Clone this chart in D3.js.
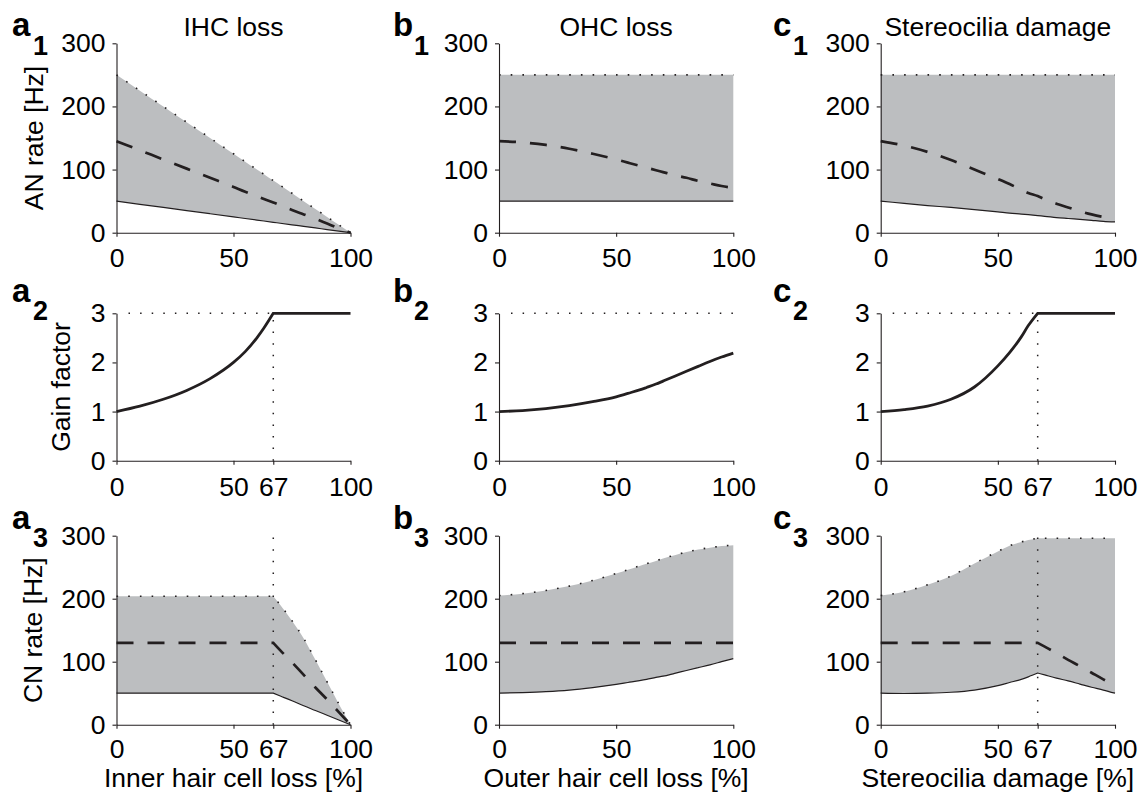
<!DOCTYPE html>
<html><head><meta charset="utf-8">
<script src="https://cdn.jsdelivr.net/npm/d3@7"></script>
<style>
body{margin:0;background:#fff}
svg{display:block}
text{font-family:"Liberation Sans",Arial,Helvetica,sans-serif;fill:#000}
</style></head><body>
<svg id="chart" width="1142" height="798"></svg>
<script>
// ---------------- data ----------------
const lossGrid = [0, 10, 20, 30, 40, 50, 55, 60, 63, 67, 70, 75, 80, 85, 90, 95, 100];

// Row 1: AN rate [Hz]
const a1Upper = [250, 225, 200, 175, 150, 125, 112.5, 100, 92.5, 82.5, 75, 62.5, 50, 37.5, 25, 12.5, 0];
const a1Mean  = [145, 130.5, 116, 101.5, 87, 72.5, 65, 58, 53.5, 48, 43.5, 36, 29, 22, 14.5, 7, 0];
const a1Lower = [50, 45, 40, 35, 30, 25, 22.5, 20, 18.5, 16.5, 15, 12.5, 10, 7.5, 5, 2.5, 0];

const b1Upper = [250, 250, 250, 250, 250, 250, 250, 250, 250, 250, 250, 250, 250, 250, 250, 250, 250];
const b1Mean  = [145, 143, 139, 133, 125, 116, 111, 106, 103, 99, 96, 91, 87, 82, 78, 74, 71];
const b1Lower = [50, 50, 50, 50, 50, 50, 50, 50, 50, 50, 50, 50, 50, 50, 50, 50, 50];

const c1Upper = [250, 250, 250, 250, 250, 250, 250, 250, 250, 250, 250, 250, 250, 250, 250, 250, 250];
const c1Mean  = [145, 138, 128, 115, 100, 85, 77, 68, 63, 58, 53, 46, 40, 34, 29, 25, 22];
const c1Lower = [50, 46.5, 43, 40, 36.5, 33, 31, 29.5, 28.5, 27, 26, 24, 22.5, 21, 19.5, 18, 17];

// Row 2: gain factor
const a2Gain = [1, 1.11, 1.25, 1.43, 1.67, 2.0, 2.22, 2.5, 2.7, 3, 3, 3, 3, 3, 3, 3, 3];
const b2Gain = [1, 1.02, 1.06, 1.12, 1.2, 1.3, 1.37, 1.44, 1.49, 1.56, 1.62, 1.72, 1.82, 1.92, 2.02, 2.11, 2.19];
const c2Gain = [1, 1.04, 1.11, 1.25, 1.5, 1.93, 2.2, 2.52, 2.75, 3, 3, 3, 3, 3, 3, 3, 3];

// Row 3: CN rate [Hz]
const a3Upper = [204, 204, 204, 204, 204, 204, 204, 204, 204, 204, 190, 165, 137, 103, 68, 33, 0];
const a3Mean  = [130, 130, 130, 130, 130, 130, 130, 130, 130, 130, 118, 99, 79, 59, 40, 20, 0];
const a3Lower = [50, 50, 50, 50, 50, 50, 50, 50, 50, 50, 45.5, 38, 30, 22.5, 15, 7.5, 0];

const b3Upper = [205, 208, 213, 220, 229, 240, 246, 252, 255.5, 260, 264, 269, 274, 278, 281, 283.5, 285];
const b3Mean  = [130, 130, 130, 130, 130, 130, 130, 130, 130, 130, 130, 130, 130, 130, 130, 130, 130];
const b3Lower = [50, 51, 52.5, 55, 59, 64, 67, 70, 72, 75, 77, 81.5, 86, 90.5, 95, 100, 105];

const c3Upper = [205, 211, 222, 236, 256, 275, 284, 290, 293, 296, 296, 296, 296, 296, 296, 296, 296];
const c3Mean  = [130, 130, 130, 130, 130, 130, 130, 130, 130, 130, 124, 113.5, 103, 93, 82.5, 72, 62];
const c3Lower = [50, 49.5, 50, 51.5, 55, 62, 67, 72, 76, 82, 79, 74, 69.5, 64.5, 59.5, 55, 50];

// Text and ticks
const columnTitles = ["IHC loss", "OHC loss", "Stereocilia damage"];
const xAxisLabels = ["Inner hair cell loss [%]", "Outer hair cell loss [%]", "Stereocilia damage [%]"];
const yAxisLabels = ["AN rate [Hz]", "Gain factor", "CN rate [Hz]"];
const panelLetters = ["a", "b", "c"];
const rateTicks = [0, 100, 200, 300];
const gainTicks = [0, 1, 2, 3];
const lossTicks = [0, 50, 100];
const lossTicksKink = [0, 50, 67, 100];
const kinkValue = 67;
const maxGain = 3;

// ---------------- layout ----------------
const svg = d3.select("#chart");
const INK = "#231f20", FILL = "#bcbec0";
const FS = 26.5;
const colRange = [[116.5, 350.5], [499, 733.3], [880.7, 1115]];
const rowRange = [[232.7, 43.3], [460.7, 313.3], [724.7, 535.7]];
const rowTickPad = [11, 12, 10];
const letterPos = [[12, 33], [393, 414], [773, 793]];
const letterBase = [[36, 55], [302, 320], [529, 547]];

const panels = [
  {c:0, r:0, upper:a1Upper, mean:a1Mean, lower:a1Lower, kink:null},
  {c:1, r:0, upper:b1Upper, mean:b1Mean, lower:b1Lower, kink:null},
  {c:2, r:0, upper:c1Upper, mean:c1Mean, lower:c1Lower, kink:null},
  {c:0, r:1, gain:a2Gain, kink:kinkValue},
  {c:1, r:1, gain:b2Gain, kink:null},
  {c:2, r:1, gain:c2Gain, kink:kinkValue},
  {c:0, r:2, upper:a3Upper, mean:a3Mean, lower:a3Lower, kink:kinkValue},
  {c:1, r:2, upper:b3Upper, mean:b3Mean, lower:b3Lower, kink:null},
  {c:2, r:2, upper:c3Upper, mean:c3Mean, lower:c3Lower, kink:kinkValue}
];

function pieces(points, kink) {
  if (kink == null) return [points];
  return [points.filter(p => p[0] <= kink), points.filter(p => p[0] >= kink)];
}

panels.forEach(p => {
  const x = d3.scaleLinear().domain([0, 100]).range(colRange[p.c]);
  const y = p.r === 1 ? d3.scaleLinear().domain([0, 3]).range(rowRange[1])
                      : d3.scaleLinear().domain([0, 300]).range(rowRange[p.r]);
  const g = svg.append("g");
  const curve = d3.curveMonotoneX;

  const joinLines = (vals, gen) => pieces(lossGrid.map((d, i) => [d, vals[i]]), p.kink)
      .map((seg, i) => { const d = gen(seg); return i === 0 ? d : d.replace(/^M/, "L"); }).join("");

  const line = d3.line().x(d => x(d[0])).y(d => y(d[1])).curve(curve);

  if (p.r !== 1) {
    const area = d3.area().x(d => x(d[0])).y0(d => y(d[1])).y1(d => y(d[2])).curve(curve);
    const trip = lossGrid.map((d, i) => [d, p.lower[i], p.upper[i]]);
    g.append("path").attr("d", pieces(trip, p.kink).map(s => area(s)).join(""))
      .attr("fill", FILL).attr("stroke", "none");
    if (p.kink != null) {
      g.append("line").attr("x1", x(p.kink)).attr("x2", x(p.kink))
        .attr("y1", y(0)).attr("y2", y(300))
        .attr("stroke", INK).attr("stroke-width", 1.5).attr("stroke-dasharray", "1.5,10.1");
    }
    g.append("path").attr("d", joinLines(p.lower, line))
      .attr("fill", "none").attr("stroke", INK).attr("stroke-width", 1.2);
    g.append("path").attr("d", joinLines(p.mean, line))
      .attr("fill", "none").attr("stroke", INK).attr("stroke-width", 2.7)
      .attr("stroke-dasharray", "17,14");
    g.append("path").attr("d", joinLines(p.upper, line))
      .attr("fill", "none").attr("stroke", INK).attr("stroke-width", 1.6)
      .attr("stroke-dasharray", "1.6,10.1");
  } else {
    const xEnd = p.kink != null ? p.kink : 100;
    g.append("line").attr("x1", x(0) + 12).attr("x2", x(xEnd))
      .attr("y1", y(maxGain)).attr("y2", y(maxGain))
      .attr("stroke", INK).attr("stroke-width", 1.5).attr("stroke-dasharray", "1.5,10.1");
    if (p.kink != null) {
      g.append("line").attr("x1", x(p.kink)).attr("x2", x(p.kink))
        .attr("y1", y(0)).attr("y2", y(maxGain))
        .attr("stroke", INK).attr("stroke-width", 1.5).attr("stroke-dasharray", "1.5,10.1");
    }
    g.append("path").attr("d", joinLines(p.gain, line))
      .attr("fill", "none").attr("stroke", INK).attr("stroke-width", 2.8);
  }

  // axes
  const xTicks = (p.r >= 1 && p.c !== 1) ? lossTicksKink : lossTicks;
  const xAxis = d3.axisBottom(x).tickValues(xTicks).tickSize(4).tickSizeOuter(0)
    .tickPadding(rowTickPad[p.r]).tickFormat(d3.format("d"));
  const yAxis = d3.axisLeft(y).tickValues(p.r === 1 ? gainTicks : rateTicks)
    .tickSize(4).tickSizeOuter(0).tickPadding(7).tickFormat(d3.format("d"));
  [g.append("g").attr("transform", `translate(0,${y(0)})`).call(xAxis),
   g.append("g").attr("transform", `translate(${x(0)},0)`).call(yAxis)].forEach(ax => {
    ax.selectAll("path,line").attr("stroke", INK).attr("stroke-width", 1.1);
    ax.selectAll("text").attr("font-size", FS).attr("fill", "#000")
      .style("font-family", '"Liberation Sans", Arial, sans-serif');
  });

  // panel letters
  svg.append("text").attr("x", letterPos[p.c][0]).attr("y", letterBase[p.r][0])
    .attr("font-size", 33).attr("font-weight", "bold").text(panelLetters[p.c]);
  svg.append("text").attr("x", letterPos[p.c][1]).attr("y", letterBase[p.r][1])
    .attr("font-size", 27).attr("font-weight", "bold").text(String(p.r + 1));

  const cx = (colRange[p.c][0] + colRange[p.c][1]) / 2;
  if (p.r === 0) {
    svg.append("text").attr("x", cx).attr("y", 36).attr("text-anchor", "middle")
      .attr("font-size", FS).text(columnTitles[p.c]);
  }
  if (p.r === 2) {
    svg.append("text").attr("x", cx).attr("y", 787).attr("text-anchor", "middle")
      .attr("font-size", FS).text(xAxisLabels[p.c]);
  }
  if (p.c === 0) {
    const cy = (rowRange[p.r][0] + rowRange[p.r][1]) / 2;
    const bx = [43, 70, 42][p.r];
    svg.append("text").attr("transform", `translate(${bx},${cy}) rotate(-90)`)
      .attr("text-anchor", "middle").attr("font-size", FS).text(yAxisLabels[p.r]);
  }
});
</script>
</body></html>
